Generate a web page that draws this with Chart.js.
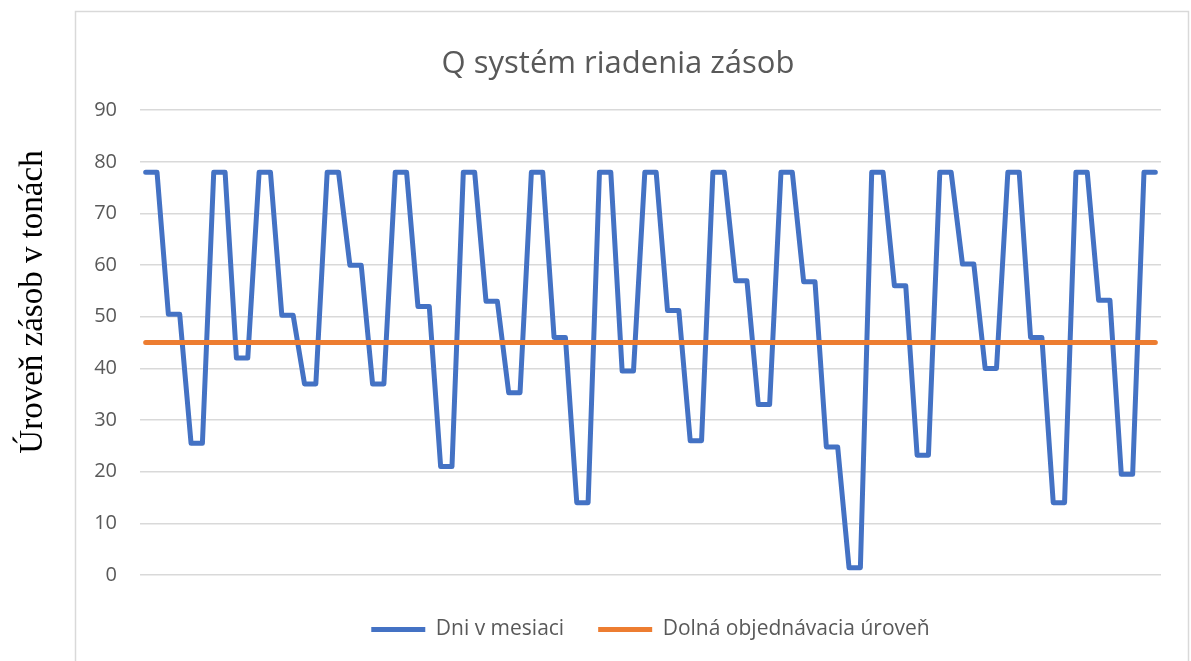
<!DOCTYPE html>
<html lang="sk">
<head>
<meta charset="utf-8">
<title>Q systém riadenia zásob</title>
<script src="https://cdn.jsdelivr.net/npm/chart.js@4.4.1/dist/chart.umd.min.js"></script>
<style>
  html, body { margin: 0; padding: 0; background: #fff; }
  #graf { width: 1191px; height: 661px; }
</style>
</head>
<body>
<div id="graf"><canvas id="grafZasob"></canvas></div>
<script>
// dni (kategórie osi x)
const dni = Array.from({ length: 90 }, (_, i) => String(i + 1));

// úroveň zásob - každá hodnota trvá dva dni
const urovenZasob = [
  78, 78, 50.5, 50.5, 25.5, 25.5, 78, 78, 42, 42,
  78, 78, 50.3, 50.3, 37, 37, 78, 78, 60, 60,
  37, 37, 78, 78, 52, 52, 21, 21, 78, 78,
  53, 53, 35.3, 35.3, 78, 78, 46, 46, 14, 14,
  78, 78, 39.5, 39.5, 78, 78, 51.2, 51.2, 26, 26,
  78, 78, 57, 57, 33, 33, 78, 78, 56.8, 56.8,
  24.8, 24.8, 1.4, 1.4, 78, 78, 56, 56, 23.2, 23.2,
  78, 78, 60.2, 60.2, 40, 40, 78, 78, 46, 46,
  14, 14, 78, 78, 53.2, 53.2, 19.5, 19.5, 78, 78
];

// dolná objednávacia úroveň (prvý a posledný deň)
const dolnaUroven = [45, 45];

const osY = { min: 0, max: 90, krok: 10 };

const sivaText = '#595959';
const sivaMriezka = '#d9d9d9';

// rámček grafu a popis osi y (samostatné textové pole vľavo)
const ramcekAPopis = {
  id: 'ramcekAPopis',
  beforeDraw(chart) {
    const ctx = chart.ctx;
    ctx.save();
    ctx.strokeStyle = sivaMriezka;
    ctx.lineWidth = 1.5;
    ctx.strokeRect(75.5, 11.5, 1113, 700);
    ctx.restore();
  },
  afterDraw(chart) {
    const ctx = chart.ctx;
    ctx.save();
    ctx.translate(42, 302);
    ctx.rotate(-Math.PI / 2);
    ctx.font = '33px "Liberation Serif", "Times New Roman", serif';
    ctx.fillStyle = '#000';
    ctx.textAlign = 'center';
    ctx.textBaseline = 'alphabetic';
    ctx.fillText('Úroveň zásob v tonách', 0, 0);
    ctx.restore();
  }
};

const data = {
  labels: dni,
  datasets: [
    {
      label: 'Dni v mesiaci',
      data: urovenZasob,
      borderColor: '#4472c4',
      backgroundColor: '#4472c4',
      borderWidth: 5,
      borderCapStyle: 'round',
      borderJoinStyle: 'round',
      pointRadius: 0,
      tension: 0,
      order: 1
    },
    {
      label: 'Dolná objednávacia úroveň',
      data: [
        { x: dni[0], y: dolnaUroven[0] },
        { x: dni[dni.length - 1], y: dolnaUroven[1] }
      ],
      borderColor: '#ed7d31',
      backgroundColor: '#ed7d31',
      borderWidth: 5,
      borderCapStyle: 'round',
      pointRadius: 0,
      order: 0
    }
  ]
};

const options = {
  responsive: false,
  animation: false,
  layout: { padding: { left: 75, right: 30, top: 11, bottom: 11 } },
  plugins: {
    title: {
      display: true,
      text: 'Q systém riadenia zásob',
      color: sivaText,
      font: { family: '"Open Sans", sans-serif', size: 31, weight: 'normal' },
      padding: { top: 35, bottom: 27 }
    },
    legend: {
      position: 'bottom',
      fullSize: false,
      labels: {
        color: sivaText,
        font: { family: '"Open Sans", sans-serif', size: 21 },
        usePointStyle: true,
        pointStyle: 'line',
        pointStyleWidth: 54,
        padding: 34,
        sort: (a, b) => a.datasetIndex - b.datasetIndex
      }
    },
    tooltip: { enabled: false }
  },
  scales: {
    x: {
      type: 'category',
      offset: true,
      grid: { display: false },
      border: { display: false },
      ticks: { display: false },
      afterFit(scale) { scale.height = 10; }
    },
    y: {
      min: osY.min,
      max: osY.max,
      ticks: {
        stepSize: osY.krok,
        color: sivaText,
        padding: 23,
        font: { family: '"Open Sans", sans-serif', size: 20 }
      },
      grid: { color: sivaMriezka, lineWidth: 1.5, drawTicks: false },
      border: { display: false },
      afterFit(scale) { scale.width = 65; }
    }
  }
};

const canvas = document.getElementById('grafZasob');
canvas.width = 1191;
canvas.height = 661;

new Chart(canvas, {
  type: 'line',
  data: data,
  options: options,
  plugins: [ramcekAPopis]
});
</script>
</body>
</html>
